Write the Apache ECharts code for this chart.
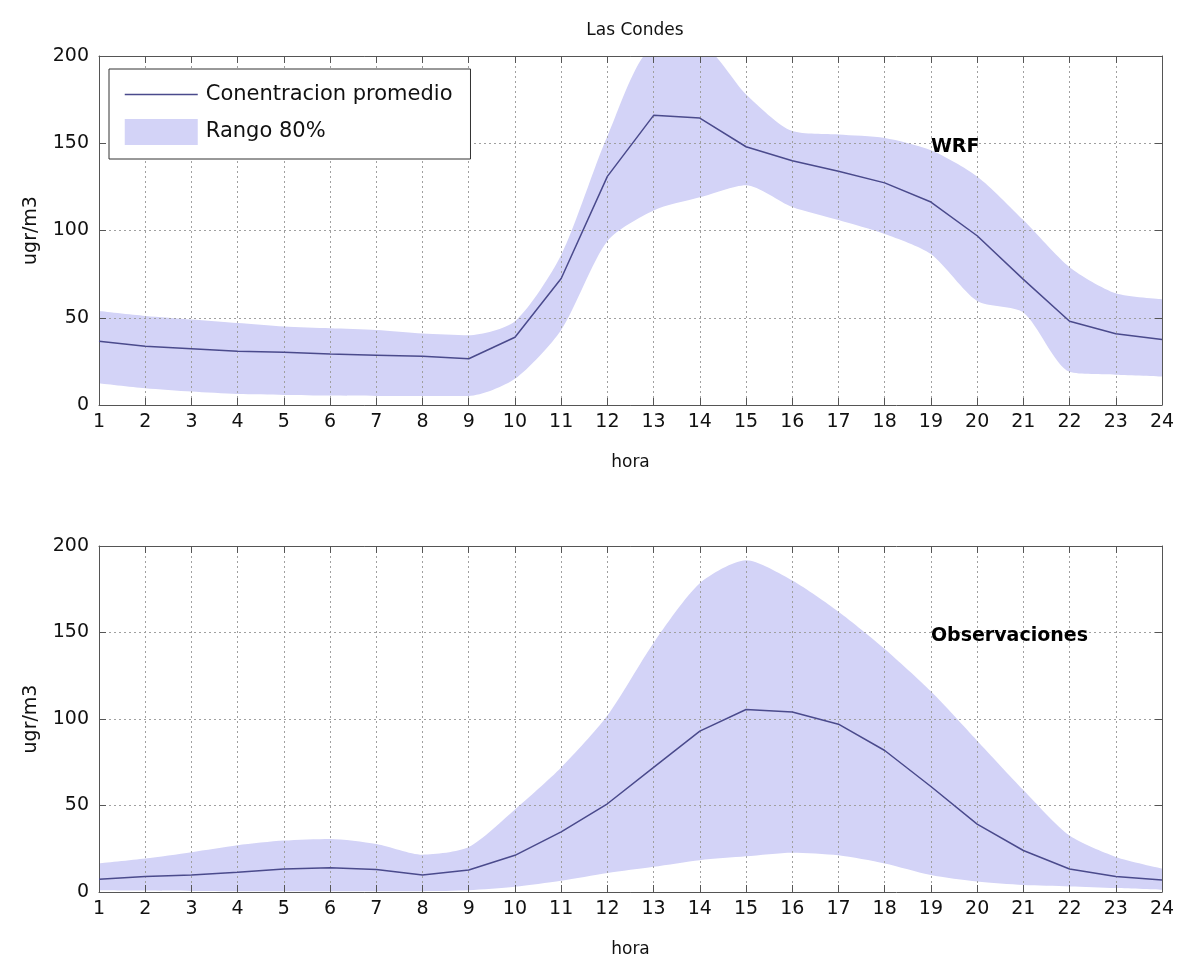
<!DOCTYPE html>
<html>
<head>
<meta charset="utf-8">
<script src="https://cdn.jsdelivr.net/npm/echarts@6/dist/echarts.min.js"></script>
<style>html,body{margin:0;padding:0;background:#fff}#c{width:1180px;height:980px}</style>
</head>
<body>
<div id="c"></div>
<script>
const hours = [1,2,3,4,5,6,7,8,9,10,11,12,13,14,15,16,17,18,19,20,21,22,23,24];
const yTicks = [0, 50, 100, 150, 200];

const wrfMean  = [36.5,33.7,32.3,30.8,30.2,29.2,28.5,27.9,26.5,38.8,72.5,131,166,164.4,148,140,134,127.3,116.3,97,72,48,40.8,37.5];
const wrfUpper = [53.8,51,49,47,45,44,43,41,40,48,86,154,205,206,178,157,155,153,146,131,106,79,64,60.6];
const wrfLower = [12.5,9.6,7.7,6.3,5.8,5.4,5.2,5.2,5.2,15,43,94,111.5,119,126,113.5,106,98,86.5,59.6,53,19,17.3,16.3];

const obsMean  = [7.4,8.9,9.8,11.4,13.3,14,13,9.8,12.7,21.2,34.8,51,72,93,105.5,104,97,81.8,61,39.2,24,13.3,8.9,7];
const obsUpper = [16.5,19.3,23,27,29.7,30.7,27.8,21.6,26,47.7,72,102,144,178.4,191.7,180,162,140.5,116,87.5,59,32.6,20.3,13.6];
const obsLower = [1,0.8,0.6,0.5,0.5,0.5,0.5,0.5,1,3,6.5,11,14.6,18.4,20.6,22.7,21.2,16.5,9.8,6,4,3.2,2.3,1.3];

const panelLabels = ['WRF', 'Observaciones'];
const labelAt = [19, 148];

const FONT = 'DejaVu Sans';
const TXT = '#111';
const BAND = '#d3d3f7';
const LINE = '#4a4a8c';
const FRAME = '#555';

const cats = hours.map(String);
const diffs = (up, lo) => up.map((v, i) => +(v - lo[i]).toFixed(2));

function xAxes(gi) {
  return [
    { gridIndex: gi, type: 'category', data: cats, boundaryGap: false, z: 3,
      name: 'hora', nameLocation: 'middle', nameGap: 49,
      nameTextStyle: { fontFamily: FONT, fontSize: 17, color: TXT },
      axisLine: { show: true, lineStyle: { color: FRAME, width: 1 } },
      axisTick: { show: true, inside: true, length: 7, interval: 0, lineStyle: { color: FRAME } },
      axisLabel: { fontFamily: FONT, fontSize: 19, color: TXT, margin: 8, interval: 0 },
      splitLine: { show: true, interval: 0, lineStyle: { color: '#a0a0a0', type: [2, 3], width: 1 } } },
    { gridIndex: gi, type: 'category', data: cats, boundaryGap: false, position: 'top', z: 3,
      axisLine: { show: true, onZero: false, lineStyle: { color: FRAME, width: 1 } },
      axisTick: { show: true, inside: true, length: 7, interval: 0, lineStyle: { color: FRAME } },
      axisLabel: { show: false }, splitLine: { show: false } }
  ];
}
function yAxes(gi) {
  return [
    { gridIndex: gi, type: 'value', min: yTicks[0], max: yTicks[yTicks.length-1], interval: 50, z: 3,
      name: 'ugr/m3', nameLocation: 'middle', nameGap: 58, nameRotate: 90,
      nameTextStyle: { fontFamily: FONT, fontSize: 19, color: TXT },
      axisLine: { show: true, onZero: false, lineStyle: { color: FRAME, width: 1 } },
      axisTick: { show: true, inside: true, length: 7, lineStyle: { color: FRAME } },
      axisLabel: { fontFamily: FONT, fontSize: 19, color: TXT, margin: 10 },
      splitLine: { show: true, lineStyle: { color: '#a0a0a0', type: [2, 3], width: 1 } } },
    { gridIndex: gi, type: 'value', position: 'right', min: yTicks[0], max: yTicks[yTicks.length-1], interval: 50, z: 3,
      axisLine: { show: true, onZero: false, lineStyle: { color: FRAME, width: 1 } },
      axisTick: { show: true, inside: true, length: 7, lineStyle: { color: FRAME } },
      axisLabel: { show: false }, splitLine: { show: false } }
  ];
}

function panelSeries(gi, mean, up, lo) {
  const xi = gi * 2, yi = gi * 2;
  return [
    { type: 'line', xAxisIndex: xi, yAxisIndex: yi, stack: 'band' + gi, data: lo, smooth: 0.25,
      symbol: 'none', lineStyle: { opacity: 0, width: 0 }, silent: true, z: 1 },
    { name: 'Rango 80%', type: 'line', xAxisIndex: xi, yAxisIndex: yi, stack: 'band' + gi, data: diffs(up, lo),
      smooth: 0.25, symbol: 'none', lineStyle: { opacity: 0, width: 0 }, itemStyle: { color: BAND },
      areaStyle: { color: BAND, opacity: 1 }, z: 1 },
    { name: 'Conentracion promedio', type: 'line', xAxisIndex: xi, yAxisIndex: yi, data: mean,
      symbol: 'none', lineStyle: { color: LINE, width: 1.5 }, itemStyle: { color: LINE }, z: 5 },
    { type: 'scatter', xAxisIndex: xi, yAxisIndex: yi, data: [[String(labelAt[0]), labelAt[1]]],
      symbolSize: 0, silent: true, z: 6, itemStyle: { opacity: 1, color: TXT },
      label: { show: true, position: 'right', distance: 0, formatter: panelLabels[gi], opacity: 1,
        fontFamily: FONT, fontWeight: 'bold', fontSize: 19, color: '#000' } }
  ];
}

const chart = echarts.init(document.getElementById('c'), null, { renderer: 'canvas' });
chart.setOption({
  backgroundColor: '#fff',
  animation: false,
  title: { text: 'Las Condes', left: 630, top: 17, textAlign: 'center',
    textStyle: { fontFamily: FONT, fontSize: 17, fontWeight: 'normal', color: TXT } },
  legend: {
    left: 109, top: 69, orient: 'vertical',
    backgroundColor: '#fff', borderColor: '#333', borderWidth: 1,
    padding: [15, 18, 14, 15], itemGap: 14, itemWidth: 73, itemHeight: 26,
    textStyle: { fontFamily: FONT, fontSize: 21, color: TXT, padding: [0, 0, 0, 3] },
    data: [
      { name: 'Conentracion promedio', itemStyle: { opacity: 0 }, lineStyle: { color: LINE, width: 1.5 } },
      { name: 'Rango 80%', icon: 'rect', itemStyle: { color: BAND, borderWidth: 0 } }
    ]
  },
  grid: [
    { left: 99, right: 18, top: 56, height: 349, containLabel: false },
    { left: 99, right: 18, top: 546, height: 346, containLabel: false }
  ],
  xAxis: [...xAxes(0), ...xAxes(1)],
  yAxis: [...yAxes(0), ...yAxes(1)],
  series: [
    ...panelSeries(0, wrfMean, wrfUpper, wrfLower),
    ...panelSeries(1, obsMean, obsUpper, obsLower)
  ]
});
</script>
</body>
</html>
